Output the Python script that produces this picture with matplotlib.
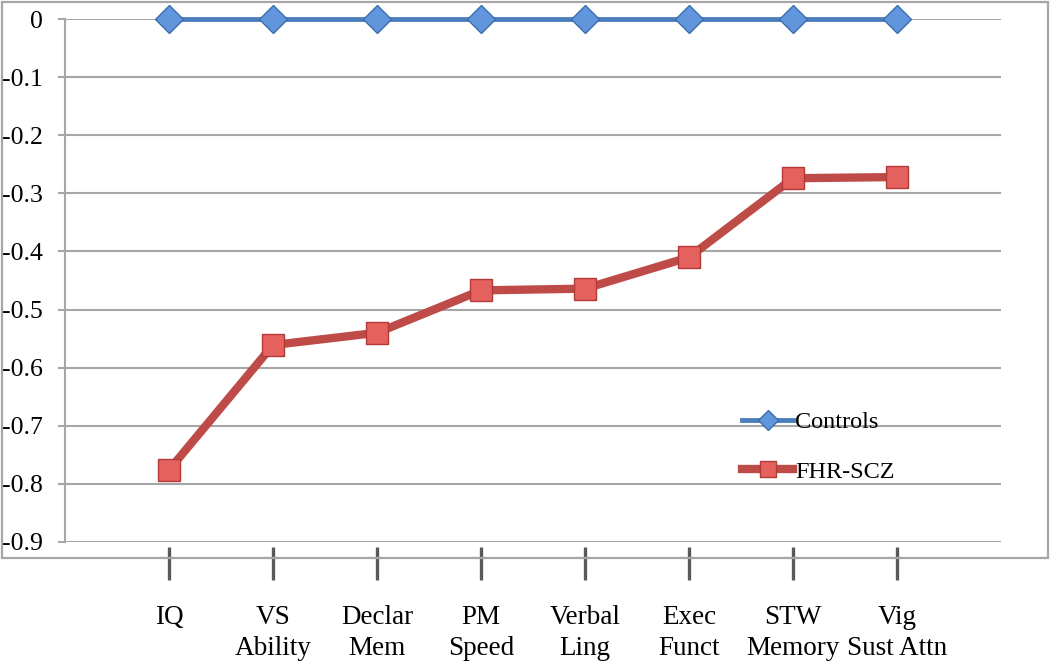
import numpy as np
import matplotlib
matplotlib.use("Agg")
import matplotlib.pyplot as plt
from matplotlib.patches import Rectangle

# Domain labels along the x axis
domains = ["IQ", "VS\nAbility", "Declar\nMem", "PM\nSpeed", "Verbal\nLing",
           "Exec\nFunct", "STW\nMemory", "Vig\nSust Attn"]

# Effect sizes relative to controls
controls = [0, 0, 0, 0, 0, 0, 0, 0]
fhr_scz = [-0.776, -0.561, -0.540, -0.467, -0.464, -0.410, -0.274, -0.272]

y_ticks = [0, -0.1, -0.2, -0.3, -0.4, -0.5, -0.6, -0.7, -0.8, -0.9]

SERIF = "Liberation Serif"
GRID = "#a6a6a6"

W, H = 1050, 662
fig = plt.figure(figsize=(W / 100, H / 100), dpi=100)
ax = fig.add_axes([65 / W, 1 - 542 / H, (1001 - 65) / W, (542 - 19) / H])

# outer chart frame (labels sit below it, as in the original)
fig.patches.append(Rectangle((2 / W, 1 - 558 / H), 1046 / W, 556 / H,
                             transform=fig.transFigure, fill=False,
                             edgecolor=GRID, linewidth=1.6))

x = np.arange(1, len(domains) + 1)

ax.plot(x, controls, color="#4a7ebb", lw=3.5, marker="D", ms=14,
        mfc="#6196dc", mec="#3a6cae", mew=1, clip_on=False, zorder=4,
        label="Controls")
ax.plot(x, fhr_scz, color="#be4b48", lw=6, marker="s", ms=16,
        mfc="#e4615e", mec="#b23a37", mew=1, clip_on=False, zorder=4,
        label="FHR-SCZ")

ax.set_xlim(0, len(domains) + 1)
ax.set_ylim(-0.9, 0)
ax.set_yticks(y_ticks)
ax.set_yticklabels([f"{v:g}" for v in y_ticks], fontfamily=SERIF, fontsize=18.5)
ax.yaxis.grid(True, color=GRID, lw=1.5)
ax.set_axisbelow(True)
ax.tick_params(axis="y", length=5, width=1.5, color=GRID, pad=11)

for side in ["top", "right", "bottom"]:
    ax.spines[side].set_visible(False)
ax.spines["left"].set_color(GRID)
ax.spines["left"].set_linewidth(1.5)

# x ticks: dark hatched bars hanging below the plot
ax.set_xticks(x)
ax.set_xticklabels(domains, fontfamily=SERIF, fontsize=19.5, linespacing=1.33,
                   va="top")
ax.tick_params(axis="x", length=0, pad=45)
for xi in x:
    ax.plot([xi, xi], [-0.01, -0.073], transform=ax.get_xaxis_transform(),
            color="#5a5a5a", lw=2.4, clip_on=False, solid_capstyle="butt")

leg = ax.legend(loc="center left", bbox_to_anchor=(742 / W, 1 - 447 / H),
                bbox_transform=fig.transFigure, frameon=False,
                prop={"family": SERIF, "size": 17.5}, handlelength=2.1,
                handletextpad=0.1, labelspacing=1.15, borderpad=0,
                borderaxespad=0, markerscale=0.75)

fig.savefig("out.png", dpi=100)
